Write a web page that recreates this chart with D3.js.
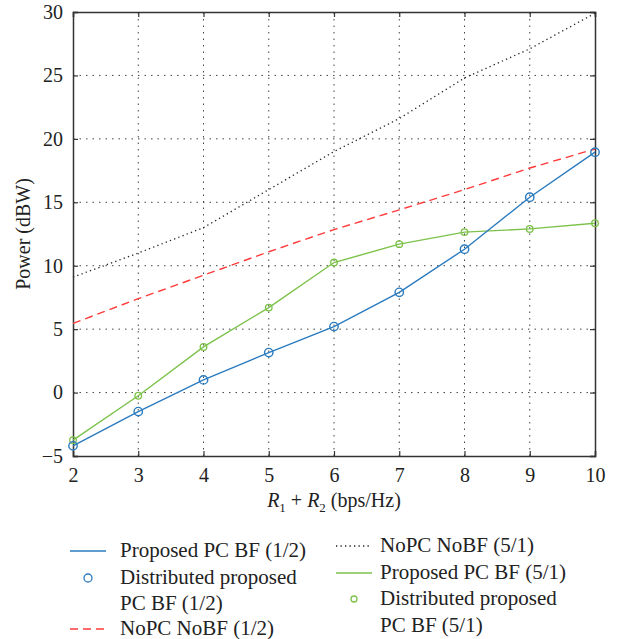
<!DOCTYPE html>
<html>
<head>
<meta charset="utf-8">
<script src="https://cdn.jsdelivr.net/npm/d3@7"></script>
<style>
  body { margin: 0; background: #fff; }
  svg text { font-family: "Liberation Serif", "Times New Roman", Tinos, "DejaVu Serif", "Noto Serif", FreeSerif, serif; fill: #222; }
</style>
</head>
<body>
<div id="chart"></div>
<script>
const width = 619;
const height = 639;
const margin = { top: 12, right: 24, bottom: 183, left: 73 };
const serifFont = '"Liberation Serif", "Times New Roman", Tinos, "DejaVu Serif", "Noto Serif", FreeSerif, serif';

// x values: R1 + R2 (bps/Hz)
const rates = [2, 3, 4, 5, 6, 7, 8, 9, 10];
// Power (dBW) per series
const proposed12 = [-4.2, -1.5, 1.0, 3.15, 5.2, 7.9, 11.3, 15.4, 18.95];
const nopc12 = [5.45, 7.4, 9.25, 11.1, 12.85, 14.4, 16.0, 17.7, 19.2];
const nopc51 = [9.1, 11.0, 13.0, 16.0, 19.0, 21.6, 24.8, 27.1, 29.9];
const proposed51 = [-3.75, -0.25, 3.6, 6.7, 10.25, 11.7, 12.65, 12.9, 13.35];

const xTicks = [2, 3, 4, 5, 6, 7, 8, 9, 10];
const yTicks = [-5, 0, 5, 10, 15, 20, 25, 30];

const blue = '#2a7bbf';
const green = '#7cc24a';
const red = '#ff3a3a';

const svg = d3.select('#chart')
  .append('svg')
    .attr('width', width)
    .attr('height', height);

const x = d3.scaleLinear()
  .domain([2, 10])
  .range([margin.left, width - margin.right]);

const y = d3.scaleLinear()
  .domain([-5, 30])
  .range([height - margin.bottom, margin.top]);

// Dotted grid
const grid = svg.append('g');
grid.selectAll('line.gx')
  .data(xTicks.slice(1, -1))
  .join('line')
    .attr('x1', d => x(d)).attr('x2', d => x(d))
    .attr('y1', y(-5)).attr('y2', y(30))
    .attr('stroke', '#444')
    .attr('stroke-width', 1)
    .attr('stroke-dasharray', '1.5,5');
grid.selectAll('line.gy')
  .data(yTicks.slice(1, -1))
  .join('line')
    .attr('x1', x(2)).attr('x2', x(10))
    .attr('y1', d => y(d)).attr('y2', d => y(d))
    .attr('stroke', '#444')
    .attr('stroke-width', 1)
    .attr('stroke-dasharray', '1.5,5');

// Axes (ticks inward on all four sides)
const tickLen = 5;
svg.append('g')
  .attr('transform', `translate(0,${y(-5)})`)
  .call(d3.axisBottom(x).tickValues(xTicks).tickSize(-tickLen).tickPadding(12).tickFormat(d3.format('d')));
svg.append('g')
  .attr('transform', `translate(0,${y(30)})`)
  .call(d3.axisTop(x).tickValues(xTicks).tickSize(-tickLen).tickFormat(''));
svg.append('g')
  .attr('transform', `translate(${x(2)},0)`)
  .call(d3.axisLeft(y).tickValues(yTicks).tickSize(-tickLen).tickPadding(10).tickFormat(d => d < 0 ? '\u2212' + Math.abs(d) : d));
svg.append('g')
  .attr('transform', `translate(${x(10)},0)`)
  .call(d3.axisRight(y).tickValues(yTicks).tickSize(-tickLen).tickFormat(''));

svg.selectAll('.domain').attr('stroke', '#333').attr('stroke-width', 1.5);
svg.selectAll('.tick line').attr('stroke', '#333').attr('stroke-width', 1.2);
svg.selectAll('g').attr('font-family', null);
svg.selectAll('.tick text')
  .style('font-family', serifFont)
  .style('font-size', '20px')
  .attr('fill', '#222');

// Series lines
const line = d3.line()
  .x((d, i) => x(rates[i]))
  .y(d => y(d));

svg.append('path').datum(nopc51)
  .attr('d', line).attr('fill', 'none')
  .attr('stroke', '#222').attr('stroke-width', 1.3)
  .attr('stroke-dasharray', '1.3,3.2');

svg.append('path').datum(nopc12)
  .attr('d', line).attr('fill', 'none')
  .attr('stroke', red).attr('stroke-width', 1.4)
  .attr('stroke-dasharray', '8,5');

svg.append('path').datum(proposed51)
  .attr('d', line).attr('fill', 'none')
  .attr('stroke', green).attr('stroke-width', 1.4);

svg.append('path').datum(proposed12)
  .attr('d', line).attr('fill', 'none')
  .attr('stroke', blue).attr('stroke-width', 1.4);

// Distributed markers
svg.append('g').selectAll('circle')
  .data(proposed51)
  .join('circle')
    .attr('cx', (d, i) => x(rates[i]))
    .attr('cy', d => y(d))
    .attr('r', 3.3)
    .attr('fill', 'none')
    .attr('stroke', green)
    .attr('stroke-width', 1.3);

svg.append('g').selectAll('circle')
  .data(proposed12)
  .join('circle')
    .attr('cx', (d, i) => x(rates[i]))
    .attr('cy', d => y(d))
    .attr('r', 4.2)
    .attr('fill', 'none')
    .attr('stroke', blue)
    .attr('stroke-width', 1.4);

// Axis labels
svg.append('text')
  .attr('transform', `translate(30,${(y(-5) + y(30)) / 2}) rotate(-90)`)
  .attr('text-anchor', 'middle')
  .style('font-size', '20px')
  .text('Power (dBW)');

const xl = svg.append('text')
  .attr('x', (x(2) + x(10)) / 2)
  .attr('y', 507)
  .attr('text-anchor', 'middle')
  .style('font-size', '20px');
xl.append('tspan').style('font-style', 'italic').text('R');
xl.append('tspan').attr('dy', 5).style('font-size', '13px').text('1');
xl.append('tspan').attr('dy', -5).text(' + ');
xl.append('tspan').style('font-style', 'italic').text('R');
xl.append('tspan').attr('dy', 5).style('font-size', '13px').text('2');
xl.append('tspan').attr('dy', -5).text(' (bps/Hz)');

// Legend
const legendItems = [
  { col: 0, rows: [557], kind: 'line', color: blue, dash: null, label: ['Proposed PC BF (1/2)'] },
  { col: 0, rows: [584, 610], kind: 'marker', color: blue, r: 4, label: ['Distributed proposed', 'PC BF (1/2)'] },
  { col: 0, rows: [635], kind: 'line', color: red, dash: '8,5', label: ['NoPC NoBF (1/2)'] },
  { col: 1, rows: [552], kind: 'line', color: '#222', dash: '1.3,3.2', label: ['NoPC NoBF (5/1)'] },
  { col: 1, rows: [579], kind: 'line', color: green, dash: null, label: ['Proposed PC BF (5/1)'] },
  { col: 1, rows: [605, 632], kind: 'marker', color: green, r: 3, label: ['Distributed proposed', 'PC BF (5/1)'] }
];
const colX = [{ l0: 70, l1: 106, t: 120 }, { l0: 336, l1: 372, t: 380 }];

const legend = svg.append('g');
legendItems.forEach(item => {
  const c = colX[item.col];
  const symY = item.rows[0] - 6;
  if (item.kind === 'line') {
    legend.append('line')
      .attr('x1', c.l0).attr('x2', c.l1)
      .attr('y1', symY).attr('y2', symY)
      .attr('stroke', item.color)
      .attr('stroke-width', 1.4)
      .attr('stroke-dasharray', item.dash);
  } else {
    legend.append('circle')
      .attr('cx', (c.l0 + c.l1) / 2).attr('cy', symY)
      .attr('r', item.r)
      .attr('fill', 'none')
      .attr('stroke', item.color)
      .attr('stroke-width', 1.3);
  }
  item.label.forEach((t, i) => {
    legend.append('text')
      .attr('x', c.t)
      .attr('y', item.rows[i])
      .style('font-size', '21px')
      .text(t);
  });
});
</script>
</body>
</html>
